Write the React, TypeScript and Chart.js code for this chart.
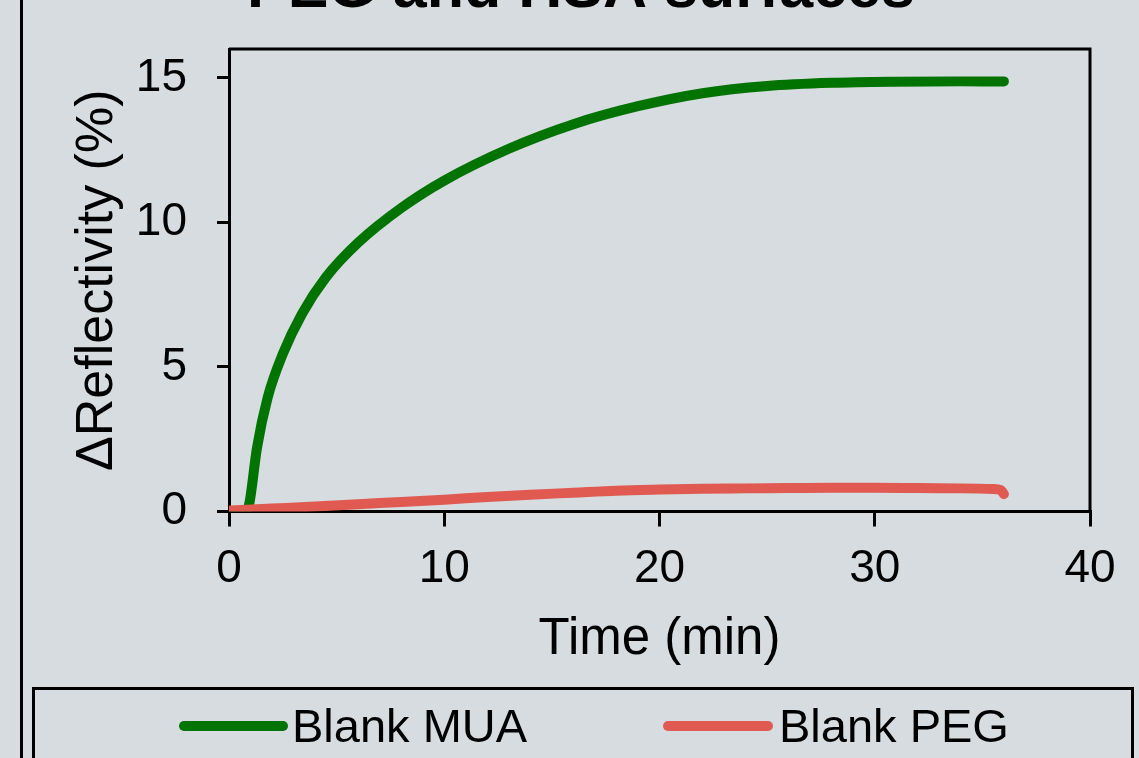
import React, { useEffect, useRef } from "react";
import { Chart, registerables } from "chart.js";

Chart.register(...registerables);

const titleText = "PEG and HSA surfaces";
const xAxisTitle = "Time (min)";
const yAxisTitle = "ΔReflectivity (%)";
const seriesNames = ["Blank MUA", "Blank PEG"];
const seriesColors = ["#007300", "#e05a52"];

const xTicks = [0, 10, 20, 30, 40];
const yTicks = [0, 5, 10, 15];

const muaTime = [0, 0.8, 0.95, 1.3, 1.8, 2.5, 3.4, 4.5, 6.0, 8.0, 10, 13, 16, 19, 22, 25, 28, 31, 34, 36];
const muaValues = [0, 0, 0.3, 2.2, 3.95, 5.45, 6.85, 8.1, 9.3, 10.5, 11.45, 12.55, 13.4, 14.02, 14.47, 14.72, 14.83, 14.87, 14.88, 14.88];

const pegTime = [0, 2, 4, 6, 8, 10, 12, 14, 16, 18, 20, 22, 24, 26, 28, 30, 32, 34, 35.5, 35.85, 36];
const pegValues = [0.03, 0.1, 0.17, 0.25, 0.33, 0.41, 0.5, 0.58, 0.65, 0.72, 0.76, 0.79, 0.8, 0.81, 0.82, 0.82, 0.81, 0.8, 0.78, 0.74, 0.6];

const FONT = "'Liberation Sans', Arial, sans-serif";
const BG = "#d6dcdf";

const decorPlugin = {
  id: "decor",
  afterDraw(chart: any) {
    const ctx = chart.ctx;
    const a = chart.chartArea;
    ctx.save();
    ctx.strokeStyle = "#000";
    ctx.lineWidth = 3;
    ctx.beginPath();
    ctx.moveTo(a.left, a.top);
    ctx.lineTo(a.right, a.top);
    ctx.lineTo(a.right, a.bottom);
    ctx.stroke();
    ctx.beginPath();
    ctx.moveTo(21.5, 0);
    ctx.lineTo(21.5, 758);
    ctx.stroke();
    ctx.fillStyle = "#000";
    ctx.font = `bold 61px ${FONT}`;
    ctx.textAlign = "center";
    ctx.textBaseline = "alphabetic";
    ctx.fillText(titleText, 581, 7);
    ctx.lineWidth = 3;
    ctx.strokeRect(33.5, 688.5, 1099, 100);
    const items = [
      { x0: 184, x1: 283, tx: 292 },
      { x0: 668, x1: 768, tx: 779 },
    ];
    items.forEach((it, i) => {
      ctx.strokeStyle = seriesColors[i];
      ctx.lineWidth = 10;
      ctx.lineCap = "round";
      ctx.beginPath();
      ctx.moveTo(it.x0, 726);
      ctx.lineTo(it.x1, 726);
      ctx.stroke();
      ctx.fillStyle = "#000";
      ctx.font = `47px ${FONT}`;
      ctx.textAlign = "left";
      ctx.textBaseline = "alphabetic";
      ctx.fillText(seriesNames[i], it.tx, 742);
    });
    ctx.restore();
  },
};

export default function App() {
  const ref = useRef<HTMLCanvasElement | null>(null);
  useEffect(() => {
    document.body.style.margin = "0";
    const canvas = ref.current!;
    const chart = new Chart(canvas, {
      type: "line",
      data: {
        datasets: [
          {
            label: seriesNames[0],
            data: muaTime.map((t, i) => ({ x: t, y: muaValues[i] })),
            borderColor: seriesColors[0],
            backgroundColor: seriesColors[0],
            borderWidth: 10,
            borderCapStyle: "round",
            borderJoinStyle: "round",
            pointRadius: 0,
            cubicInterpolationMode: "monotone",
            order: 1,
          },
          {
            label: seriesNames[1],
            data: pegTime.map((t, i) => ({ x: t, y: pegValues[i] })),
            borderColor: seriesColors[1],
            backgroundColor: seriesColors[1],
            borderWidth: 10,
            borderCapStyle: "round",
            borderJoinStyle: "round",
            pointRadius: 0,
            cubicInterpolationMode: "monotone",
            order: 0,
          },
        ],
      },
      options: {
        responsive: false,
        animation: false,
        devicePixelRatio: 1,
        layout: { padding: { top: 49, right: 49, bottom: 0, left: 0 } },
        plugins: {
          legend: { display: false },
          title: { display: false },
          tooltip: { enabled: false },
        },
        scales: {
          x: {
            type: "linear",
            min: 0,
            max: 40,
            afterFit: (s: any) => {
              s.height = 246.5;
              s.paddingLeft = 0;
              s.paddingRight = 0;
            },
            afterBuildTicks: (s: any) => {
              s.ticks = xTicks.map((v) => ({ value: v }));
            },
            ticks: {
              color: "#000",
              font: { family: FONT, size: 46 },
              padding: 15,
              maxRotation: 0,
            },
            grid: {
              drawOnChartArea: false,
              drawTicks: true,
              tickLength: 15,
              color: "#000",
              lineWidth: 3,
            },
            border: { display: true, color: "#000", width: 3 },
            title: {
              display: true,
              text: xAxisTitle,
              color: "#000",
              font: { family: FONT, size: 51 },
              padding: { top: 0, bottom: 87 },
            },
          },
          y: {
            type: "linear",
            min: 0,
            max: 16,
            afterFit: (s: any) => {
              s.width = 229;
              s.paddingTop = 0;
              s.paddingBottom = 0;
            },
            afterBuildTicks: (s: any) => {
              s.ticks = yTicks.map((v) => ({ value: v }));
            },
            ticks: {
              color: "#000",
              font: { family: FONT, size: 46 },
              padding: 30,
            },
            grid: {
              drawOnChartArea: false,
              drawTicks: true,
              tickLength: 12,
              color: "#000",
              lineWidth: 3,
            },
            border: { display: true, color: "#000", width: 3 },
            title: {
              display: true,
              text: yAxisTitle,
              color: "#000",
              font: { family: FONT, size: 52 },
              padding: { top: 66, bottom: 0 },
            },
          },
        },
      },
      plugins: [decorPlugin],
    } as any);
    return () => chart.destroy();
  }, []);
  return (
    <div style={{ position: "fixed", left: 0, top: 0, width: 1139, height: 758, background: BG, overflow: "hidden" }}>
      <canvas ref={ref} width={1139} height={758} style={{ width: 1139, height: 758, display: "block" }} />
    </div>
  );
}
